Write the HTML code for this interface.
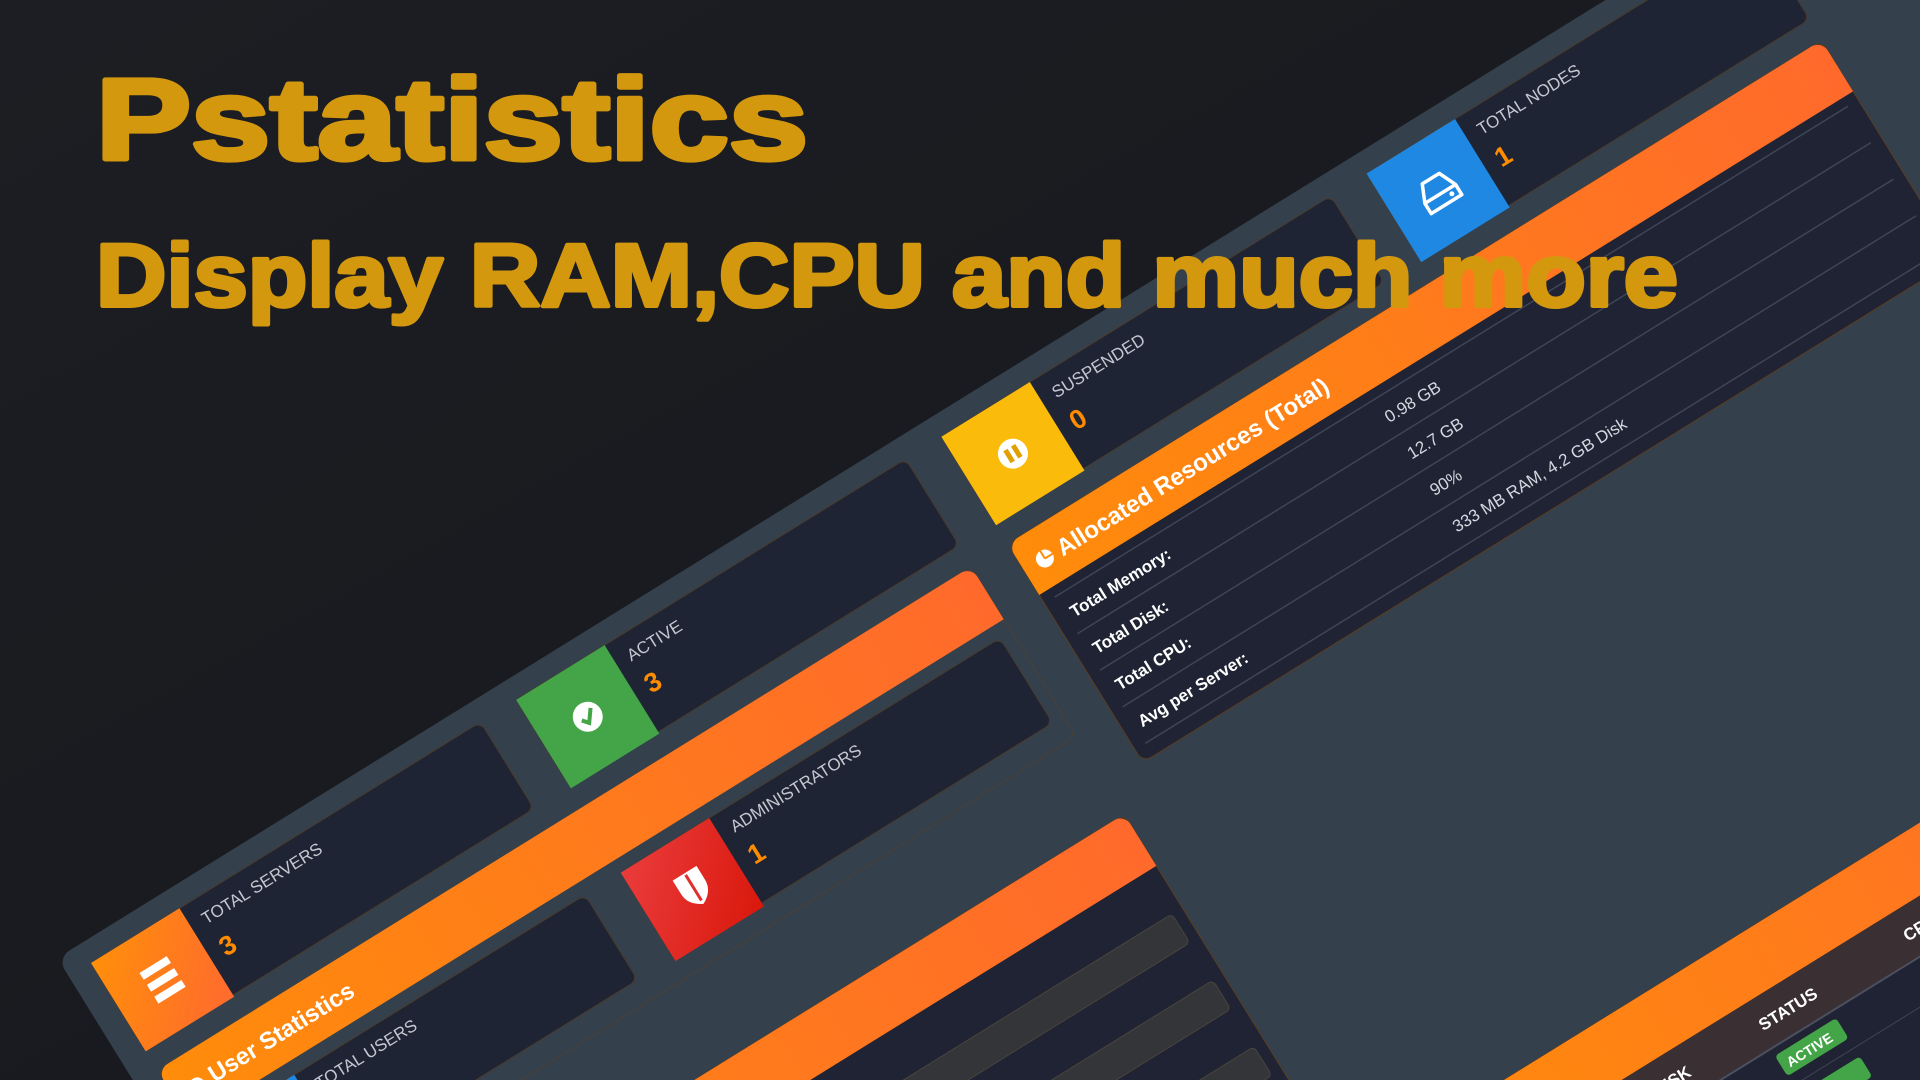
<!DOCTYPE html>
<html><head><meta charset="utf-8"><style>
html,body{margin:0;padding:0;background:#17191d;width:1920px;height:1080px;overflow:hidden}
svg{display:block;position:fixed;left:0;top:0}
</style></head><body>
<svg width="1920" height="1080" viewBox="0 0 1920 1080" xmlns="http://www.w3.org/2000/svg" font-family="Liberation Sans, sans-serif">
<defs>
<linearGradient id="og" x1="0" y1="0" x2="1" y2="0"><stop offset="0" stop-color="#ff8c0a"/><stop offset="1" stop-color="#ff6a2c"/></linearGradient>
<linearGradient id="oi" x1="0" y1="0" x2="1" y2="1"><stop offset="0" stop-color="#ff8f0a"/><stop offset="1" stop-color="#ff6a2e"/></linearGradient>
<linearGradient id="ri" x1="0" y1="0" x2="1" y2="1"><stop offset="0" stop-color="#ea3c3c"/><stop offset="1" stop-color="#d9180c"/></linearGradient>
<linearGradient id="bg" x1="0" y1="0" x2="1" y2="1"><stop offset="0" stop-color="#1c1e23"/><stop offset="1" stop-color="#15171b"/></linearGradient>
<clipPath id="cp"><rect width="1920" height="1080"/></clipPath>
</defs>
<g clip-path="url(#cp)">
<rect width="1920" height="1080" fill="url(#bg)"/>
<g transform="translate(91 963) rotate(-31.75)">
  <rect x="-26" y="-22" width="2400" height="1500" rx="14" fill="#34404c"/>
  <g>
    <rect x="0" y="0" width="458" height="102" rx="8" fill="#1f2434" stroke="#4a3a2c" stroke-width="1"/>
    <rect x="0" y="0" width="104" height="104" fill="url(#oi)"/>
    <g fill="#fff"><rect x="36" y="34" width="32" height="8"/><rect x="36" y="48" width="32" height="8"/><rect x="36" y="62" width="32" height="8"/></g>
    <text x="118" y="28" fill="#c4c8d0" font-size="17">TOTAL SERVERS</text>
    <text x="118" y="66" fill="#ff8c00" font-size="27" font-weight="bold">3</text>
  </g>
  <g>
    <rect x="500" y="0" width="458" height="102" rx="8" fill="#1f2434" stroke="#4a3a2c" stroke-width="1"/>
    <rect x="500" y="0" width="104" height="104" fill="#43a547"/>
    <circle cx="552" cy="52" r="15" fill="#fff"/><path d="M545 52 l5 6 l9 -12" stroke="#43a547" stroke-width="4" fill="none"/>
    <text x="618" y="28" fill="#c4c8d0" font-size="17">ACTIVE</text>
    <text x="618" y="66" fill="#ff8c00" font-size="27" font-weight="bold">3</text>
  </g>
  <g>
    <rect x="1000" y="0" width="458" height="102" rx="8" fill="#1f2434" stroke="#4a3a2c" stroke-width="1"/>
    <rect x="1000" y="0" width="104" height="104" fill="#fbbb0a"/>
    <circle cx="1052" cy="52" r="15" fill="#fff"/><rect x="1045" y="45" width="5" height="14" fill="#e0a000"/><rect x="1054" y="45" width="5" height="14" fill="#e0a000"/>
    <text x="1118" y="28" fill="#c4c8d0" font-size="17">SUSPENDED</text>
    <text x="1118" y="66" fill="#ff8c00" font-size="27" font-weight="bold">0</text>
  </g>
  <g>
    <rect x="1500" y="0" width="458" height="102" rx="8" fill="#1f2434" stroke="#4a3a2c" stroke-width="1"/>
    <rect x="1500" y="0" width="104" height="104" fill="#1f88e3"/>
    <path d="M1534 56 l8 -18 h20 l8 18 v12 h-36 z M1534 56 h36" stroke="#fff" stroke-width="3.5" fill="none" stroke-linejoin="round"/>
    <circle cx="1562" cy="62" r="2.5" fill="#fff"/>
    <text x="1618" y="28" fill="#c4c8d0" font-size="17">TOTAL NODES</text>
    <text x="1618" y="66" fill="#ff8c00" font-size="27" font-weight="bold">1</text>
  </g>
  <rect x="0" y="126" width="957" height="200" rx="10" fill="none" stroke="#4a4036" stroke-width="1"/>
  <path d="M0 138 a12 12 0 0 1 12 -12 h933 a12 12 0 0 1 12 12 v50 h-957 z" fill="url(#og)"/>
  <circle cx="26" cy="160" r="8" fill="#fff"/>
  <text x="42" y="167" fill="#fff" font-size="24" font-weight="bold">User Statistics</text>
  <rect x="14" y="202" width="442" height="100" rx="8" fill="#1f2434" stroke="#4a3a2c"/>
  <rect x="14" y="202" width="100" height="100" fill="#1f88e3"/>
  <text x="128" y="228" fill="#c4c8d0" font-size="17">TOTAL USERS</text>
  <text x="128" y="266" fill="#ff8c00" font-size="27" font-weight="bold">3</text>
  <rect x="498" y="202" width="446" height="100" rx="8" fill="#1f2434" stroke="#4a3a2c"/>
  <rect x="498" y="202" width="104" height="104" fill="url(#ri)"/>
  <path d="M538 236 h28 v16 c0 10 -6 16 -14 20 c-8 -4 -14 -10 -14 -20 z" fill="#fff"/>
  <path d="M552 238 v30" stroke="#e03030" stroke-width="3"/>
  <text x="616" y="228" fill="#c4c8d0" font-size="17">ADMINISTRATORS</text>
  <text x="616" y="266" fill="#ff8c00" font-size="27" font-weight="bold">1</text>
  <rect x="1000" y="126" width="957" height="257" rx="10" fill="#1f2333" stroke="#5a3c20"/>
  <path d="M1000 138 a12 12 0 0 1 12 -12 h933 a12 12 0 0 1 12 12 v48 h-957 z" fill="url(#og)"/>
  <circle cx="1024" cy="158" r="9" fill="#fff"/><path d="M1024 158 v-9 M1024 158 h9" stroke="#ff8c0a" stroke-width="2"/>
  <text x="1040" y="166" fill="#fff" font-size="24" font-weight="bold">Allocated Resources (Total)</text>
  <g stroke="#3e4556" stroke-width="1.5">
    <line x1="1012" y1="196" x2="1945" y2="196"/><line x1="1012" y1="239" x2="1945" y2="239"/>
    <line x1="1012" y1="282" x2="1945" y2="282"/><line x1="1012" y1="325" x2="1945" y2="325"/><line x1="1012" y1="368" x2="1945" y2="368"/>
  </g>
  <g fill="#fff" font-size="17" font-weight="bold">
    <text x="1018" y="224">Total Memory:</text><text x="1018" y="267">Total Disk:</text>
    <text x="1018" y="310">Total CPU:</text><text x="1018" y="353">Avg per Server:</text>
  </g>
  <g fill="#d4d8e0" font-size="17">
    <text x="1388" y="224">0.98 GB</text><text x="1388" y="267">12.7 GB</text>
    <text x="1388" y="310">90%</text><text x="1388" y="353">333 MB RAM, 4.2 GB Disk</text>
  </g>
  <rect x="0" y="417" width="957" height="700" rx="10" fill="#1f2333" stroke="#5a3c20"/>
  <path d="M0 429 a12 12 0 0 1 12 -12 h933 a12 12 0 0 1 12 12 v49 h-957 z" fill="url(#og)"/>
  <g fill="#343538" stroke="#48443e">
    <rect x="20" y="527" width="925" height="34" rx="5"/>
    <rect x="20" y="605" width="925" height="34" rx="5"/>
    <rect x="20" y="683" width="925" height="34" rx="5"/>
  </g>
  <rect x="1000" y="843" width="957" height="400" rx="10" fill="#1f2333" stroke="#5a3c20"/>
  <path d="M1000 855 a12 12 0 0 1 12 -12 h933 a12 12 0 0 1 12 12 v50 h-957 z" fill="url(#og)"/>
  <rect x="1000" y="905" width="957" height="52" fill="#3a3033"/>
  <line x1="1000" y1="957" x2="1957" y2="957" stroke="#4a5060" stroke-width="2"/>
  <g fill="#fff" font-size="17" font-weight="bold">
    <text x="1262" y="938">DISK</text><text x="1386" y="938">STATUS</text><text x="1556" y="938">CPU</text>
  </g>
  <rect x="1383" y="965" width="72" height="24" rx="4" fill="#43a547"/>
  <text x="1390" y="983" fill="#fff" font-size="14" font-weight="bold">ACTIVE</text>
  <line x1="1000" y1="1000" x2="1957" y2="1000" stroke="#3e4556"/>
  <rect x="1383" y="1010" width="72" height="24" rx="4" fill="#43a547"/>
</g>
<text x="96" y="159" fill="#d4980e" stroke="#d4980e" stroke-width="5" stroke-linejoin="round" font-size="115" font-weight="bold" textLength="712" lengthAdjust="spacingAndGlyphs">Pstatistics</text>
<text x="96" y="306" fill="#d4980e" stroke="#d4980e" stroke-width="4" stroke-linejoin="round" font-size="89" font-weight="bold" textLength="1582" lengthAdjust="spacingAndGlyphs">Display RAM,CPU and much more</text>
</g>
</svg>
</body></html>
